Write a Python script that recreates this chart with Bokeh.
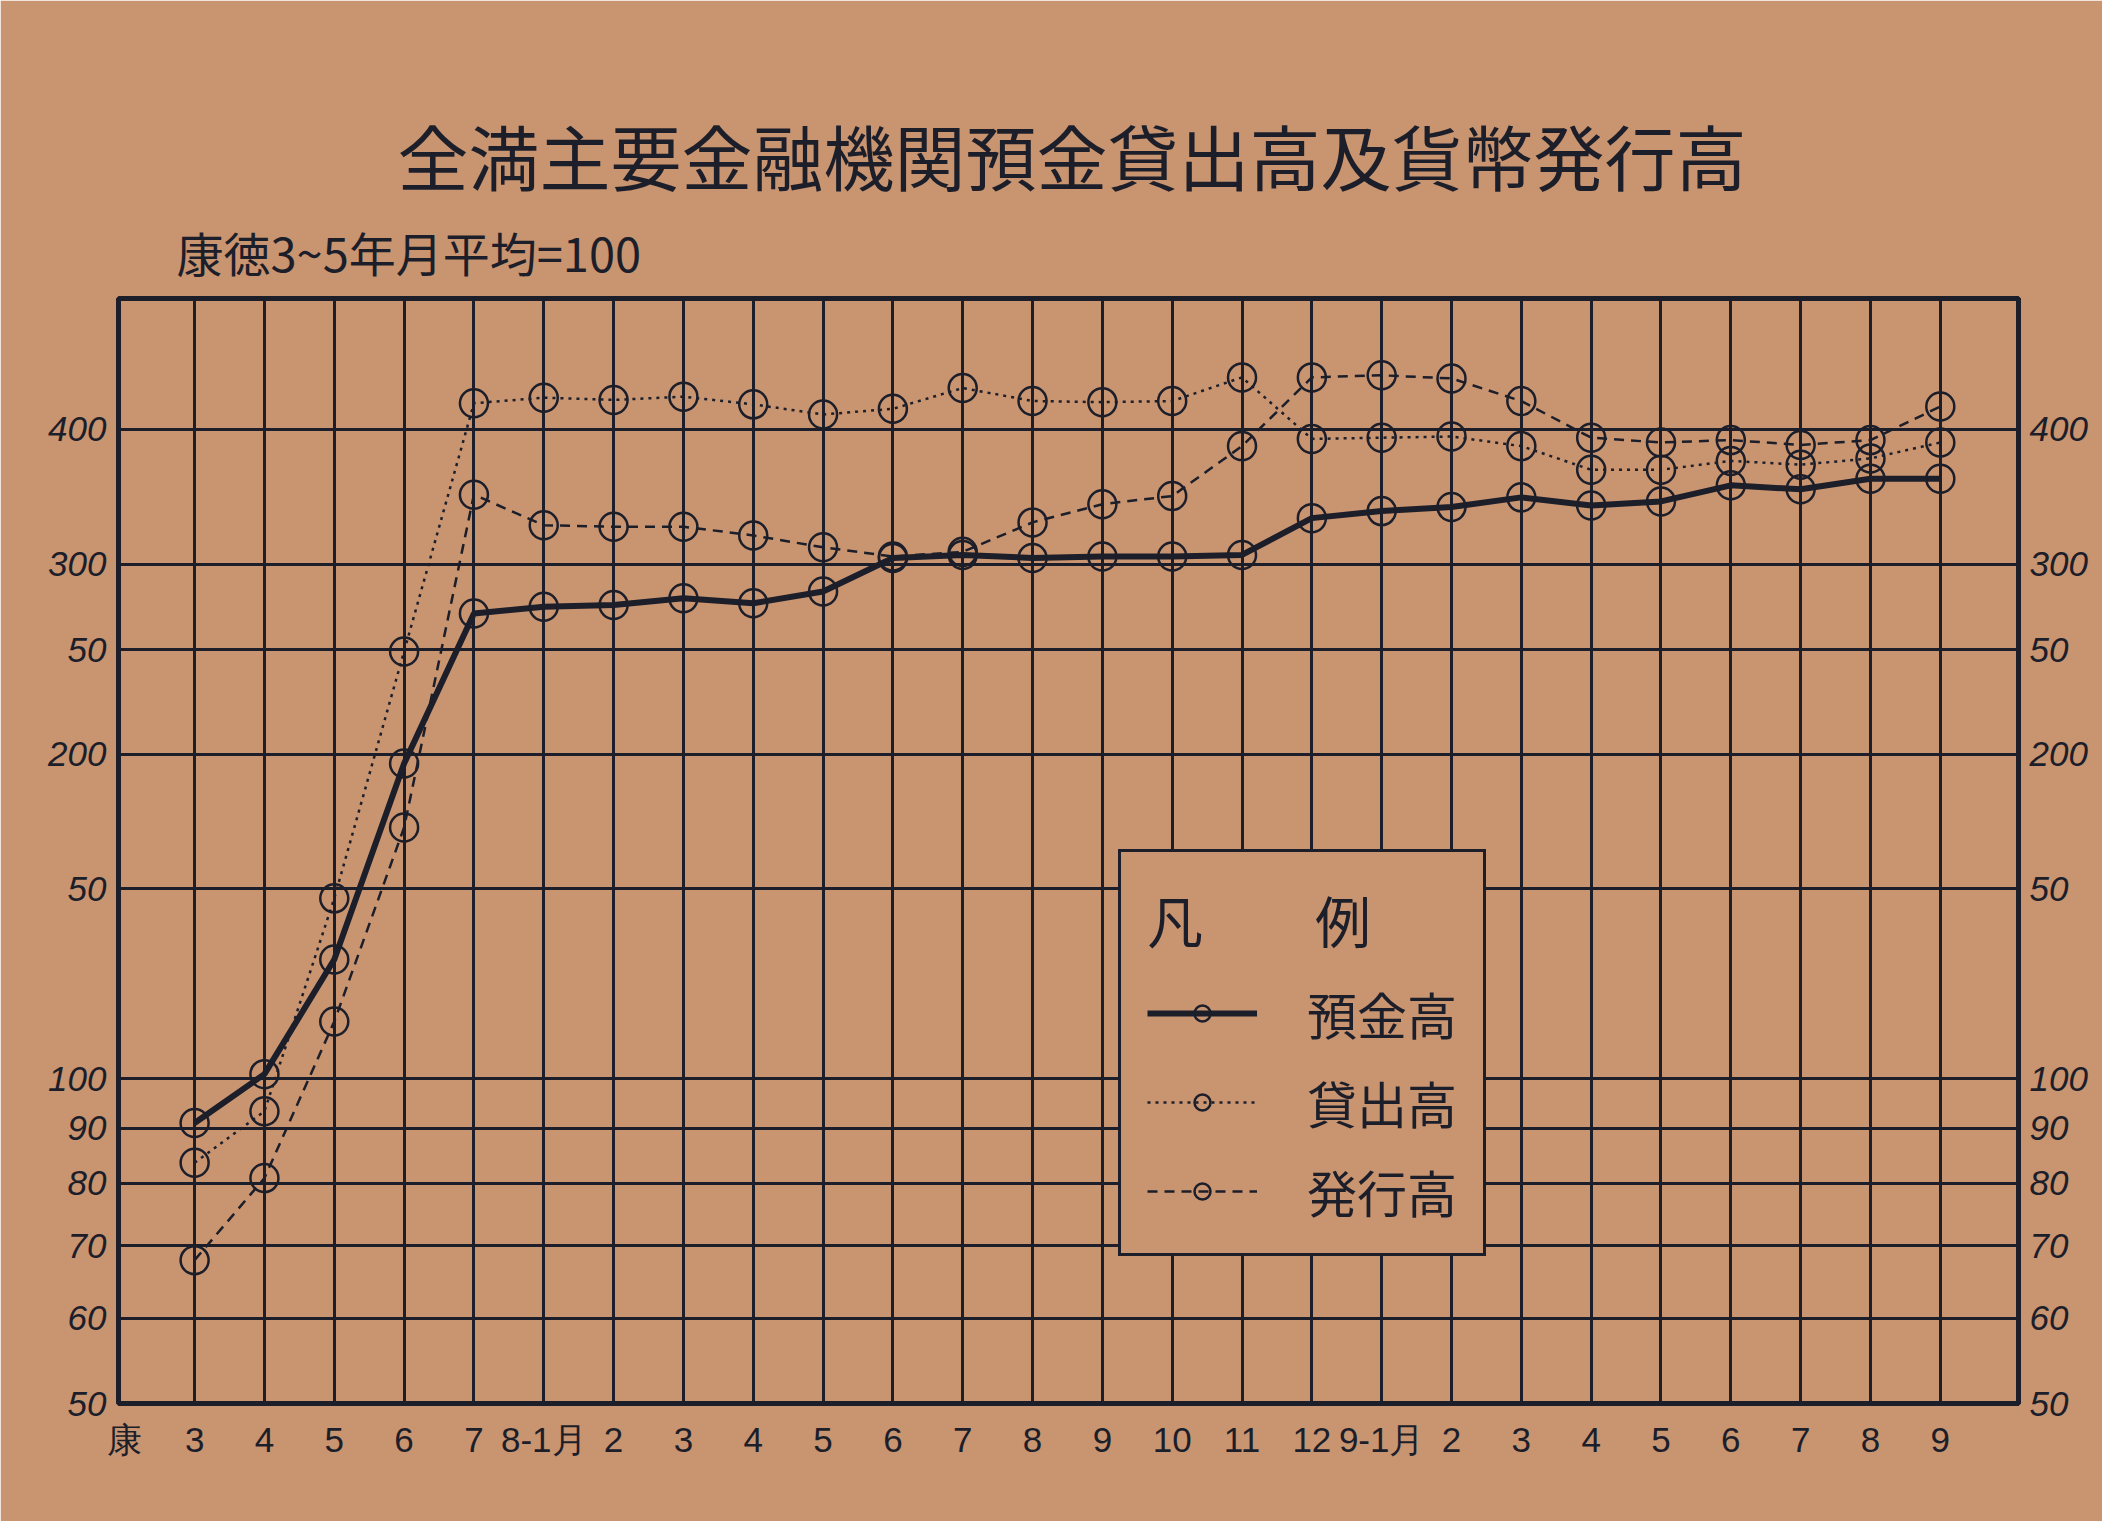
from bokeh.plotting import figure
from bokeh.models import FixedTicker, LogAxis, Legend, LegendItem, Title, ColumnDataSource
from bokeh.embed import file_html
from bokeh.resources import INLINE

# ---- data (index: 康徳3~5年 = 100) ----
TITLE = "全満主要金融機関預金貸出高及貨幣発行高"
SUBTITLE = "康徳3~5年月平均=100"
LEGEND_TITLE = "凡　　例"
series_names = ["預金高", "貸出高", "発行高"]

x_labels = ["3", "4", "5", "6", "7", "8-1月", "2", "3", "4", "5", "6", "7", "8",
            "9", "10", "11", "12", "9-1月", "2", "3", "4", "5", "6", "7", "8", "9"]
first_label = "康"

deposits = [91, 101, 129, 196, 270, 274, 275, 279, 276, 283, 304, 306, 304,
            305, 305, 306, 331, 336, 339, 346, 340, 343, 355, 352, 360, 360]
loans = [83.6, 93.3, 147, 249, 423, 428, 426, 429, 422, 413, 418, 437, 425,
         424, 425, 447, 392, 393, 394, 386, 367, 367, 374, 371, 376, 389]
currency = [67.9, 80.9, 113, 171, 348, 326, 325, 325, 319, 311, 305, 308, 328,
            341, 347, 386, 447, 449, 446, 425, 393, 389, 391, 387, 391, 420]

y_ticks = [50, 60, 70, 80, 90, 100, 150, 200, 250, 300, 400]
y_tick_labels = ["50", "60", "70", "80", "90", "100", "50", "200", "50", "300", "400"]

# ---- style ----
PAPER = "#c99470"
INK = "#1c1e2a"
NUM_FONT = "Liberation Sans"
CJK_FONT = "Noto Sans CJK JP"

xs = list(range(len(x_labels)))
src = ColumnDataSource(dict(x=xs, dep=deposits, loan=loans, cur=currency))

p = figure(width=2102, height=1521, y_axis_type="log",
           x_range=(-1.09, 26.12), y_range=(50, 529),
           output_backend="svg", toolbar_location=None,
           min_border_left=118, min_border_right=84,
           min_border_top=298, min_border_bottom=118,
           background_fill_color=PAPER, border_fill_color=PAPER,
           outline_line_color=INK, outline_line_width=5)

# titles (first added sits closest to the plot)
p.add_layout(Title(text=SUBTITLE, align="left", offset=58, standoff=21,
                   vertical_align="top",
                   text_font=CJK_FONT, text_font_size="47px",
                   text_font_style="normal", text_color=INK), "above")
p.add_layout(Title(text=TITLE, align="left", offset=279, standoff=0,
                   vertical_align="top",
                   text_font=CJK_FONT, text_font_size="71px",
                   text_font_style="normal", text_color=INK), "above")

# grids
p.xgrid.ticker = FixedTicker(ticks=xs)
p.ygrid.ticker = FixedTicker(ticks=y_ticks)
for g in (p.xgrid, p.ygrid):
    g.grid_line_color = INK
    g.grid_line_width = 3
    g.grid_line_alpha = 1.0

# x axis
xa = p.xaxis[0]
xa.ticker = FixedTicker(ticks=[-1] + xs, minor_ticks=[])
ov = {-1: first_label}
for i, lab in enumerate(x_labels):
    ov[i] = lab
xa.major_label_overrides = ov
xa.major_tick_line_color = None
xa.minor_tick_line_color = None
xa.axis_line_color = INK
xa.axis_line_width = 4
xa.major_label_standoff = 10
xa.major_label_text_font = NUM_FONT
xa.major_label_text_font_size = "35px"
xa.major_label_text_color = INK

yov = {t: l for t, l in zip(y_ticks, y_tick_labels)}

def style_y(ax, standoff):
    ax.ticker = FixedTicker(ticks=y_ticks, minor_ticks=[])
    ax.major_label_overrides = yov
    ax.major_tick_line_color = None
    ax.minor_tick_line_color = None
    ax.axis_line_color = INK
    ax.axis_line_width = 3
    ax.major_label_standoff = standoff
    ax.major_label_text_font = NUM_FONT
    ax.major_label_text_font_style = "italic"
    ax.major_label_text_font_size = "35px"
    ax.major_label_text_color = INK

style_y(p.yaxis[0], 6)
ra = LogAxis()
style_y(ra, 5)
ra.axis_line_width = 5
p.add_layout(ra, "right")

# series
r_dep_l = p.line("x", "dep", source=src, line_color=INK, line_width=6)
r_dep_c = p.scatter("x", "dep", source=src, marker="circle", size=28,
                    line_color=INK, line_width=2.5, fill_alpha=0)
r_loan_l = p.line("x", "loan", source=src, line_color=INK, line_width=2.5,
                  line_dash="3 5")
r_loan_c = p.scatter("x", "loan", source=src, marker="circle", size=28,
                     line_color=INK, line_width=2.5, fill_alpha=0)
r_cur_l = p.line("x", "cur", source=src, line_color=INK, line_width=2.5,
                 line_dash="10 7")
r_cur_c = p.scatter("x", "cur", source=src, marker="circle", size=28,
                    line_color=INK, line_width=2.5, fill_alpha=0)

legend = Legend(items=[
    LegendItem(label=series_names[0], renderers=[r_dep_l, r_dep_c]),
    LegendItem(label=series_names[1], renderers=[r_loan_l, r_loan_c]),
    LegendItem(label=series_names[2], renderers=[r_cur_l, r_cur_c]),
], location=(1000, 147), title=LEGEND_TITLE,
    title_text_font=CJK_FONT, title_text_font_size="56px",
    title_text_font_style="normal", title_text_color=INK, title_standoff=18,
    label_text_font=CJK_FONT, label_text_font_size="50px", label_text_color=INK,
    glyph_width=110, glyph_height=40, label_height=60, label_standoff=50,
    spacing=17, padding=26, margin=0,
    background_fill_color=PAPER, background_fill_alpha=1.0,
    border_line_color=INK, border_line_width=3, border_line_alpha=1.0)
p.add_layout(legend)

open("out.html", "w").write(file_html(p, INLINE))
